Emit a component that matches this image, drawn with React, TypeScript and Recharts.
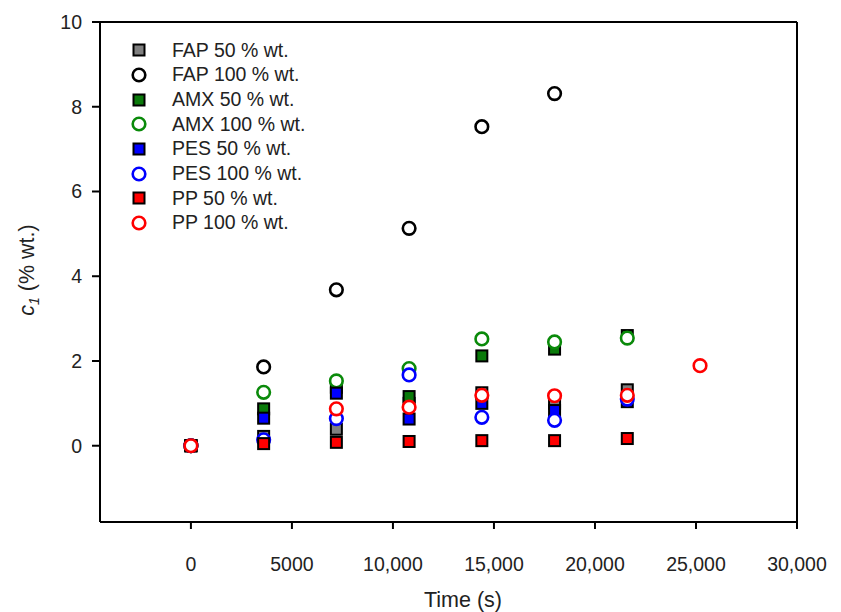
import React from "react";
import {
  ScatterChart,
  Scatter,
  XAxis,
  YAxis,
  ReferenceLine,
  Label,
} from "recharts";

// sampling times (s)
const times = [0, 3600, 7200, 10800, 14400, 18000, 21600, 25200];

// c1 (% wt.) per series, null where there is no point
const fap50 = [0, 0.22, 0.39, 1.0, 1.25, 1.0, 1.32, null];
const fap100 = [0, 1.86, 3.68, 5.13, 7.53, 8.31, null, null];
const amx50 = [0, 0.87, 1.38, 1.16, 2.12, 2.28, 2.6, null];
const amx100 = [0, 1.26, 1.53, 1.82, 2.52, 2.45, 2.54, null];
const pes50 = [0, 0.65, 1.24, 0.63, 1.0, 0.83, 1.04, null];
const pes100 = [0, 0.14, 0.64, 1.67, 0.67, 0.6, 1.1, null];
const pp50 = [0, 0.05, 0.08, 0.1, 0.12, 0.12, 0.17, null];
const pp100 = [0, null, 0.87, 0.91, 1.19, 1.18, 1.19, 1.89];

const xTicks = [0, 5000, 10000, 15000, 20000, 25000, 30000];
const yTicks = [0, 2, 4, 6, 8, 10];

const toPoints = (vals: (number | null)[]) =>
  times
    .map((t, i) => ({ t, c: vals[i] }))
    .filter((p) => p.c !== null);

const series = [
  { name: "FAP 50 % wt.", vals: fap50, color: "#808080", kind: "square" },
  { name: "FAP 100 % wt.", vals: fap100, color: "#000000", kind: "circle" },
  { name: "AMX 50 % wt.", vals: amx50, color: "#0a7a0a", kind: "square" },
  { name: "AMX 100 % wt.", vals: amx100, color: "#0a8a0a", kind: "circle" },
  { name: "PES 50 % wt.", vals: pes50, color: "#0000ff", kind: "square" },
  { name: "PES 100 % wt.", vals: pes100, color: "#0000ff", kind: "circle" },
  { name: "PP 50 % wt.", vals: pp50, color: "#ff0000", kind: "square" },
  { name: "PP 100 % wt.", vals: pp100, color: "#ff0000", kind: "circle" },
];

const FONT = "'Liberation Sans', Arial, sans-serif";
const TXT = "#222";

const marker = (kind: string, color: string, cx: number, cy: number) =>
  kind === "square" ? (
    <rect
      x={cx - 5.5}
      y={cy - 5.5}
      width={11}
      height={11}
      fill={color}
      stroke="#000"
      strokeWidth={2}
    />
  ) : (
    <circle cx={cx} cy={cy} r={6.3} fill="#fff" stroke={color} strokeWidth={2.6} />
  );

const fmtX = (v: number) => (v >= 10000 ? v.toLocaleString("en-US") : String(v));

// legend sits inside the plot, top left
const LegendBox = () => (
  <div
    style={{
      position: "absolute",
      left: 125,
      top: 38,
      fontFamily: FONT,
      fontSize: 19.5,
      color: TXT,
      lineHeight: 1,
    }}
  >
    {series.map((s) => (
      <div key={s.name} style={{ display: "flex", alignItems: "center", height: 24.7 }}>
        <svg width={28} height={20} style={{ marginRight: 19 }}>
          {marker(s.kind, s.color, 14, 10)}
        </svg>
        <span>{s.name}</span>
      </div>
    ))}
  </div>
);

export default function App() {
  return (
    <div style={{ position: "absolute", left: 0, top: 0, width: 841, height: 612, background: "#fff" }}>
      <ScatterChart
        width={841}
        height={612}
        margin={{ top: 22, right: 44, left: 0, bottom: 0 }}
      >
        <XAxis
          type="number"
          dataKey="t"
          domain={[-4500, 30000]}
          ticks={xTicks}
          tickFormatter={fmtX}
          allowDataOverflow
          height={90}
          stroke="#000"
          strokeWidth={2}
          tickSize={7}
          tickMargin={28}
          tick={{ fill: TXT, fontSize: 19.5, fontFamily: FONT }}
        >
          <Label
            content={() => (
              <text
                x={463}
                y={607}
                textAnchor="middle"
                style={{ fill: TXT, fontSize: 21.5, fontFamily: FONT }}
              >
                Time (s)
              </text>
            )}
          />
        </XAxis>
        <YAxis
          type="number"
          dataKey="c"
          domain={[-1.8, 10]}
          ticks={yTicks}
          allowDataOverflow
          width={100}
          stroke="#000"
          strokeWidth={2}
          tickSize={8}
          tickMargin={10}
          tick={{ fill: TXT, fontSize: 19.5, fontFamily: FONT }}
        >
          <Label
            content={() => (
              <text
                x={34}
                y={270}
                transform="rotate(-90 34 270)"
                textAnchor="middle"
                style={{ fill: TXT, fontSize: 21.5, fontFamily: FONT }}
              >
                <tspan fontStyle="italic">c</tspan>
                <tspan fontSize={14} fontStyle="italic" dy={5}>1</tspan>
                <tspan dy={-5}> (% wt.)</tspan>
              </text>
            )}
          />
        </YAxis>
        <ReferenceLine y={10} stroke="#000" strokeWidth={2} />
        <ReferenceLine x={30000} stroke="#000" strokeWidth={2} />
        {series.map((s) => (
          <Scatter
            key={s.name}
            name={s.name}
            data={toPoints(s.vals)}
            isAnimationActive={false}
            shape={(p: any) => marker(s.kind, s.color, p.cx, p.cy)}
          />
        ))}
      </ScatterChart>
      <LegendBox />
    </div>
  );
}
